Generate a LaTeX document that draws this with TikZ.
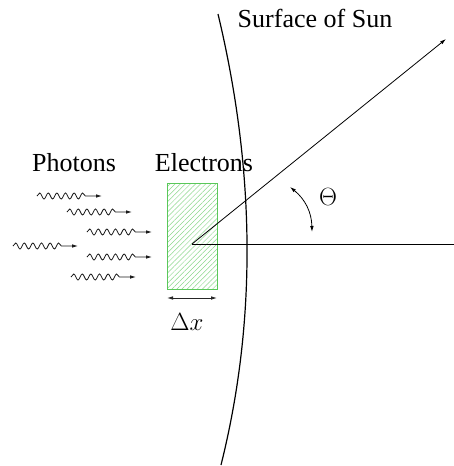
\documentclass[tikz,border=0pt]{standalone}
\usepackage{fontspec}
\setmainfont{Liberation Serif}
\usetikzlibrary{decorations.pathmorphing,patterns.meta,arrows.meta}
\definecolor{boxgreen}{RGB}{90,200,90}
\definecolor{hatchgreen}{RGB}{140,215,140}
\begin{document}
\begin{tikzpicture}[x=1pt,y=-1pt,
  photon/.style={decorate,decoration={snake,segment length=8.6pt,amplitude=3pt,post length=14pt},
    -{Latex[length=6pt,width=3.6pt]},line width=0.8pt,black!90},
  lbl/.style={font=\fontsize{26}{30}\selectfont,inner sep=0pt,anchor=base},
  mlbl/.style={font=\fontsize{23}{27}\selectfont,inner sep=0pt},
  thin arrow/.style={line width=0.8pt},
  box/.style={draw=boxgreen,line width=1pt,
    pattern={Lines[angle=45,distance=3.6pt,line width=0.5pt]},pattern color=hatchgreen,
    minimum width=50pt,minimum height=106pt,inner sep=0pt}]
\useasboundingbox (0,0) rectangle (454,466);
% photons
\foreach \x/\y [count=\i] in {37/196,67/212,87/232,13/246,87/257,71/277}{
  \coordinate (ps\i) at (\x,\y);
  \coordinate (pe\i) at (\x+65,\y);
  \draw[photon] (ps\i) -- (pe\i);
}
% electrons box
\node[box] (box) at (192,236) {};
\node[lbl] (photons) at (74,171) {Photons};
\node[lbl] (electrons) at (204,171) {Electrons};
\node[lbl] (surface) at (315,27) {Surface of Sun};
% delta x
\coordinate (dxl) at (167,298);
\coordinate (dxr) at (217,298);
\draw[thin arrow,{Latex[length=6pt,width=3.6pt]}-{Latex[length=6pt,width=3.6pt]},black!85] (dxl) -- (dxr);
\node[mlbl] (dx) at (187,322) {$\Delta x$};
% sun surface
\coordinate (st) at (218,14);
\coordinate (sb) at (221,465);
\draw[line width=1.2pt] (st) .. controls (255.7,171.7) and (256.7,322) .. (sb);
% rays
\coordinate (O) at (192,244);
\coordinate (H) at (454,244);
\coordinate (R) at (446,39);
\draw[thin arrow] (O) -- (H);
\draw[thin arrow,-{Latex[length=6pt,width=3.6pt]}] (O) -- (R);
% angle
\coordinate (a1) at (290,187);
\coordinate (a2) at (312,232);
\draw[thin arrow,{Latex[length=6pt,width=3.6pt]}-{Latex[length=6pt,width=3.6pt]}] (a1) to[bend left=25] (a2);
\node[mlbl] (theta) at (328,197) {$\Theta$};
\end{tikzpicture}
\end{document}
